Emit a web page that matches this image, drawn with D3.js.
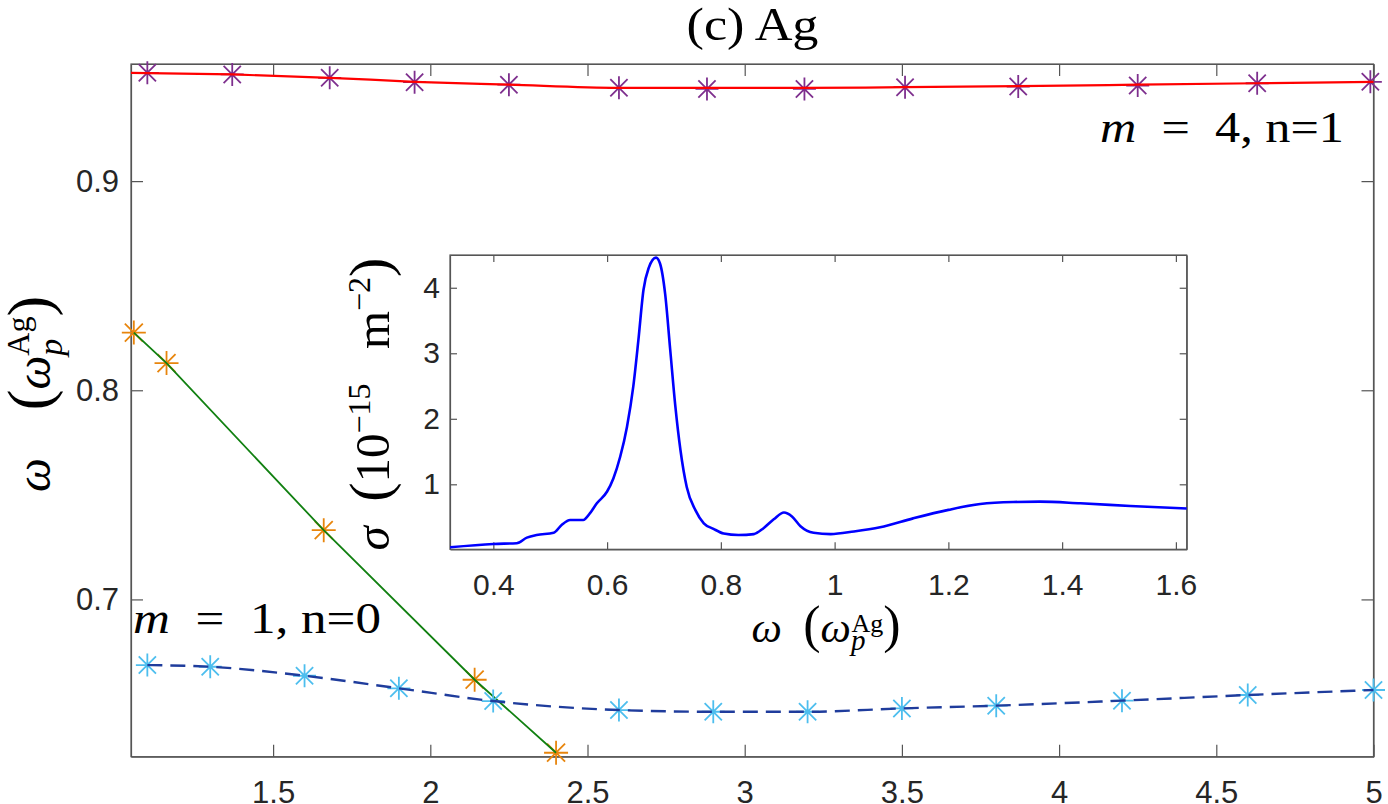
<!DOCTYPE html>
<html lang="en">
<head>
<meta charset="UTF-8">
<title>(c) Ag</title>
<script src="https://d3js.org/d3.v7.min.js"></script>
<style>
  body { margin: 0; background: #fff; }
  svg { display: block; }
  .tick text { font-family: "Liberation Sans", Arial, sans-serif; fill: #262626; }
  .tick line, .domain { stroke: #555; }
  .tex { font-family: "Liberation Serif", "Times New Roman", serif; font-weight: normal; fill: #000; }
</style>
</head>
<body>
<div id="chart"></div>
<script>
// ---- main plot data ----
// m = 4, n = 1 branch (purple stars) and its fitted curve (red)
var upperX = [1.10, 1.37, 1.68, 1.95, 2.25, 2.60, 2.88, 3.19, 3.51, 3.87, 4.25, 4.63, 4.99];
var upperY = [0.9518, 0.9510, 0.9494, 0.9473, 0.9461, 0.9446, 0.9441, 0.9441, 0.9449, 0.9452, 0.9457, 0.9468, 0.9475];
var upperFitX = [1.048, 1.37, 1.68, 1.95, 2.25, 2.60, 2.88, 3.19, 3.51, 3.87, 4.25, 4.63, 5.0];
var upperFitY = [0.9518, 0.9510, 0.9494, 0.9475, 0.9461, 0.9446, 0.9446, 0.9446, 0.9449, 0.9454, 0.9461, 0.9468, 0.9475];

// crossing branch (orange stars, green line)
var crossX = [1.057, 1.161, 1.661, 2.141, 2.400];
var crossY = [0.8276, 0.8130, 0.7331, 0.6616, 0.6267];

// m = 1, n = 0 branch (light blue stars, dashed dark blue line)
var lowerX = [1.1, 1.3, 1.6, 1.9, 2.2, 2.6, 2.9, 3.2, 3.5, 3.8, 4.2, 4.6, 5.0];
var lowerY = [0.6686, 0.6678, 0.6635, 0.6575, 0.6514, 0.6471, 0.6463, 0.6463, 0.6479, 0.6492, 0.6516, 0.6543, 0.6567];

var mainXTicks = [1.5, 2, 2.5, 3, 3.5, 4, 4.5, 5];
var mainYTicks = [0.7, 0.8, 0.9];

// ---- inset data: cross section ----
var sigmaW = [0.324, 0.40, 0.441, 0.459, 0.476, 0.506, 0.520, 0.535, 0.558, 0.570, 0.582, 0.600, 0.611, 0.623, 0.635, 0.646, 0.655, 0.664, 0.673, 0.686, 0.693, 0.702, 0.711, 0.720, 0.729, 0.740, 0.755, 0.770, 0.787, 0.805, 0.831, 0.858, 0.875, 0.893, 0.911, 0.925, 0.940, 0.963, 0.993, 1.034, 1.080, 1.138, 1.200, 1.256, 1.314, 1.361, 1.432, 1.520, 1.619];
var sigmaV = [0.039, 0.09, 0.10, 0.186, 0.227, 0.26, 0.38, 0.456, 0.456, 0.56, 0.71, 0.89, 1.09, 1.42, 1.88, 2.49, 3.20, 3.97, 4.30, 4.46, 4.37, 3.91, 3.05, 2.19, 1.52, 0.96, 0.61, 0.405, 0.32, 0.25, 0.227, 0.24, 0.33, 0.466, 0.57, 0.51, 0.36, 0.26, 0.24, 0.28, 0.344, 0.48, 0.61, 0.70, 0.73, 0.735, 0.71, 0.67, 0.63];

var insetXTicks = [0.4, 0.6, 0.8, 1, 1.2, 1.4, 1.6];
var insetYTicks = [1, 2, 3, 4];

var svg = d3.select("#chart").append("svg")
    .attr("width", 1388)
    .attr("height", 804);

// main axes box
var box = { left: 131, right: 1373.5, top: 64, bottom: 756.7 };
var x = d3.scaleLinear().domain([1.048, 5]).range([box.left, box.right]);
var y = d3.scaleLinear().domain([0.6248, 0.956]).range([box.bottom, box.top]);

function fmt(d) { return String(d); }

function drawFrame(b, xs, ys, xT, yT, tick, fs, padX, padY) {
    // bottom with labels
    svg.append("g").attr("transform", "translate(0," + b.bottom + ")")
        .call(d3.axisBottom(xs).tickValues(xT).tickFormat(fmt).tickSizeInner(-tick).tickSizeOuter(0).tickPadding(padX))
        .call(function (g) { g.selectAll("text").style("font-size", fs + "px"); });
    // top, ticks only
    svg.append("g").attr("transform", "translate(0," + b.top + ")")
        .call(d3.axisTop(xs).tickValues(xT).tickFormat("").tickSizeInner(-tick).tickSizeOuter(0));
    // left with labels
    svg.append("g").attr("transform", "translate(" + b.left + ",0)")
        .call(d3.axisLeft(ys).tickValues(yT).tickFormat(fmt).tickSizeInner(-tick).tickSizeOuter(0).tickPadding(padY))
        .call(function (g) { g.selectAll("text").style("font-size", fs + "px"); });
    // right, ticks only
    svg.append("g").attr("transform", "translate(" + b.right + ",0)")
        .call(d3.axisRight(ys).tickValues(yT).tickFormat("").tickSizeInner(-tick).tickSizeOuter(0));
    svg.append("rect")
        .attr("x", b.left).attr("y", b.top)
        .attr("width", b.right - b.left).attr("height", b.bottom - b.top)
        .attr("fill", "none").attr("stroke", "#555").attr("stroke-width", 1.2);
    svg.selectAll(".tick line").attr("stroke-width", 1.2);
    svg.selectAll(".domain").attr("stroke-width", 1.2);
}

drawFrame(box, x, y, mainXTicks, mainYTicks, 12, 31, 24, 12);

// asterisk marker like matlab '*'
function starPath(r) {
    var d = r * 0.75;
    return "M" + (-r) + ",0H" + r + "M0," + (-r) + "V" + r +
        "M" + (-d) + "," + (-d) + "L" + d + "," + d +
        "M" + (-d) + "," + d + "L" + d + "," + (-d);
}

function drawStars(xs, ys, color, r) {
    svg.append("g").selectAll("path")
        .data(d3.zip(xs, ys))
        .join("path")
        .attr("transform", function (d) { return "translate(" + x(d[0]) + "," + y(d[1]) + ")"; })
        .attr("d", starPath(r))
        .attr("fill", "none")
        .attr("stroke", color)
        .attr("stroke-width", 1.8);
}

var smooth = d3.line()
    .x(function (d) { return x(d[0]); })
    .y(function (d) { return y(d[1]); })
    .curve(d3.curveMonotoneX);
var straight = d3.line()
    .x(function (d) { return x(d[0]); })
    .y(function (d) { return y(d[1]); });

drawStars(upperX, upperY, "#7e2f8e", 11.5);
svg.append("path").datum(d3.zip(upperFitX, upperFitY))
    .attr("d", smooth).attr("fill", "none").attr("stroke", "#ff0000").attr("stroke-width", 2.2);

drawStars(crossX, crossY, "#e8850c", 12);
svg.append("path").datum(d3.zip(crossX, crossY))
    .attr("d", straight).attr("fill", "none").attr("stroke", "#118011").attr("stroke-width", 1.8);

drawStars(lowerX, lowerY, "#4dbeee", 11.5);
svg.append("path").datum(d3.zip(lowerX, lowerY))
    .attr("d", smooth).attr("fill", "none").attr("stroke", "#1f3c9c")
    .attr("stroke-width", 2.4).attr("stroke-dasharray", "15,8");

// latex-ish text built from tspans
function tex(g, parts) {
    parts.forEach(function (p) {
        var t = g.append("tspan").text(p.t);
        if (p.it) t.style("font-style", "italic");
        if (p.size) t.style("font-size", p.size + "px");
        if (p.dx) t.attr("dx", p.dx);
        if (p.dy) t.attr("dy", p.dy);
    });
    return g;
}

// title
svg.append("text").attr("class", "tex")
    .attr("x", 752.5).attr("y", 39.5)
    .attr("text-anchor", "middle")
    .style("font-size", "46px")
    .attr("textLength", 132).attr("lengthAdjust", "spacingAndGlyphs")
    .text("(c) Ag");

// branch annotations
tex(svg.append("text").attr("class", "tex")
    .attr("x", 1100).attr("y", 141.7)
    .style("font-size", "45px")
    .attr("textLength", 244).attr("lengthAdjust", "spacingAndGlyphs"),
    [{ t: "m", it: true }, { t: "\u2002=\u20024, n=1" }]);

tex(svg.append("text").attr("class", "tex")
    .attr("x", 133).attr("y", 633.3)
    .style("font-size", "45px")
    .attr("textLength", 248).attr("lengthAdjust", "spacingAndGlyphs"),
    [{ t: "m", it: true }, { t: "\u2002=\u20021, n=0" }]);

// main y label
tex(svg.append("text").attr("class", "tex")
    .attr("transform", "translate(50,394) rotate(-90)")
    .attr("text-anchor", "middle")
    .style("font-size", "48px"),
    [{ t: "ω", it: true }, { t: "\u2003" }, { t: "(", size: 62 }, { t: "ω", it: true },
     { t: "p", it: true, size: 34, dy: 12 }, { t: "Ag", size: 32, dx: -17, dy: -33 },
     { t: ")", size: 62, dy: 21 }]);

// ---- inset ----
var ibox = { left: 450, right: 1186.7, top: 255, bottom: 549.3 };
var ix = d3.scaleLinear().domain([0.3238, 1.619]).range([ibox.left, ibox.right]);
var iy = d3.scaleLinear().domain([0.008, 4.5]).range([ibox.bottom, ibox.top]);

svg.append("rect")
    .attr("x", ibox.left).attr("y", ibox.top)
    .attr("width", ibox.right - ibox.left).attr("height", ibox.bottom - ibox.top)
    .attr("fill", "#fff");

drawFrame(ibox, ix, iy, insetXTicks, insetYTicks, 7, 30, 24, 10);

svg.append("path").datum(d3.zip(sigmaW, sigmaV))
    .attr("d", d3.line()
        .x(function (d) { return ix(d[0]); })
        .y(function (d) { return iy(d[1]); })
        .curve(d3.curveMonotoneX))
    .attr("fill", "none")
    .attr("stroke", "#0000ff")
    .attr("stroke-width", 2.6);

// inset x label
tex(svg.append("text").attr("class", "tex")
    .attr("x", 826).attr("y", 641.7)
    .attr("text-anchor", "middle")
    .style("font-size", "43px"),
    [{ t: "ω", it: true }, { t: "\u2002" }, { t: "(", size: 52 }, { t: "ω", it: true },
     { t: "p", it: true, size: 29, dy: 8 }, { t: "Ag", size: 26, dx: -14, dy: -18 },
     { t: ")", size: 52, dy: 10 }]);

// inset y label
tex(svg.append("text").attr("class", "tex")
    .attr("transform", "translate(389,404) rotate(-90)")
    .attr("text-anchor", "middle")
    .style("font-size", "49px"),
    [{ t: "σ", it: true }, { t: "\u2002" }, { t: "(", size: 58 }, { t: "10" },
     { t: "\u221215", size: 32, dy: -19 }, { t: "\u2002\u2009m", dy: 19 },
     { t: "\u22122", size: 32, dy: -19 }, { t: ")", size: 58, dy: 19 }]);
</script>
</body>
</html>
